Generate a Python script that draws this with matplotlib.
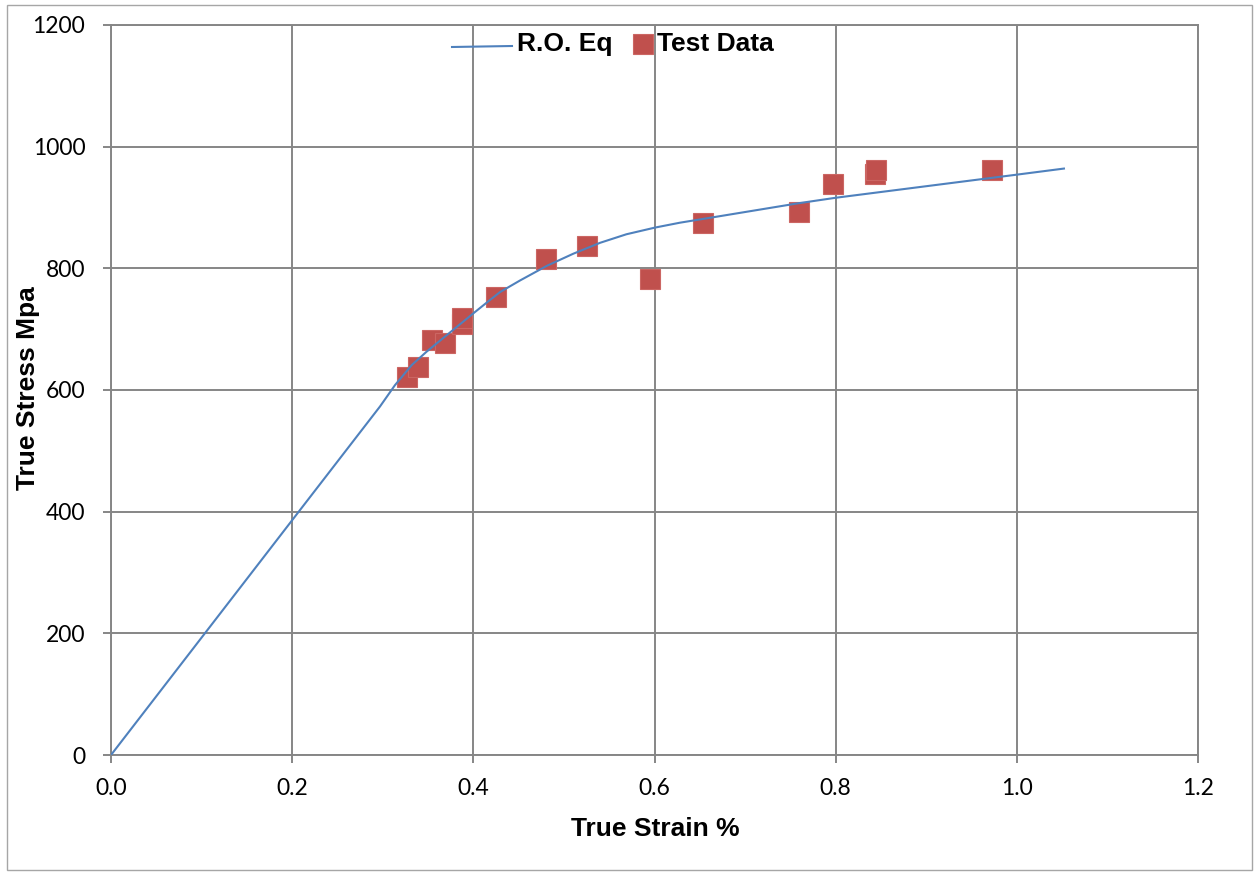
import matplotlib
matplotlib.use("Agg")
import matplotlib.pyplot as plt
from matplotlib.lines import Line2D
from matplotlib.patches import Rectangle

# R.O. equation curve
ro_strain = [0.0, 0.2, 0.297, 0.3135, 0.332, 0.3484, 0.3705, 0.400, 0.4184, 0.4295, 0.4515,
             0.481, 0.5103, 0.540, 0.569, 0.6006, 0.628, 0.665, 0.759, 0.80, 0.90, 1.0, 1.052]
ro_stress = [0, 386, 573, 608, 641, 663, 690, 726, 748, 761, 780,
             804, 824, 842, 856, 867, 875, 884, 907, 916, 935, 954, 964]

# Test data
test_strain = [0.327, 0.339, 0.354, 0.369, 0.387, 0.388, 0.425, 0.480, 0.526, 0.595,
               0.653, 0.759, 0.797, 0.843, 0.845, 0.973]
test_stress = [622, 637, 682, 677, 708, 718, 753, 816, 837, 783,
               874, 892, 939, 955, 962, 962]

xticks = [0.0, 0.2, 0.4, 0.6, 0.8, 1.0, 1.2]
yticks = [0, 200, 400, 600, 800, 1000, 1200]

W, H = 1255, 872
fig = plt.figure(figsize=(W / 100, H / 100), dpi=100)
ax = fig.add_axes([111 / W, 1 - 755 / H, (1198 - 111) / W, (755 - 25) / H])

grid_c = "#868686"
line_c = "#4F81BD"
mark_c = "#C0504D"

ax.plot(test_strain, test_stress, linestyle="none", marker="s", markersize=14.4,
        markerfacecolor=mark_c, markeredgecolor="#CC6663", markeredgewidth=0.8, zorder=3)
ax.plot(ro_strain, ro_stress, color=line_c, linewidth=1.5, zorder=4,
        solid_joinstyle="round")

ax.set_xlim(0, 1.2)
ax.set_ylim(0, 1200)
ax.set_xticks(xticks)
ax.set_xticklabels([f"{v:.1f}" for v in xticks])
ax.set_yticks(yticks)
ax.set_yticklabels([str(v) for v in yticks])
ax.grid(True, color=grid_c, linewidth=1.4, zorder=0)
ax.set_axisbelow(True)
for s in ax.spines.values():
    s.set_color(grid_c)
    s.set_linewidth(1.4)
ax.tick_params(axis="both", direction="out", length=5.5, width=1.4, color=grid_c,
               labelsize=16.5, labelcolor="black")
ax.tick_params(axis="y", pad=13)
ax.tick_params(axis="x", pad=11)
for lab in ax.get_xticklabels() + ax.get_yticklabels():
    lab.set_fontfamily("Lato")

fig.text(655 / W, 1 - 829 / H, "True Strain %", ha="center", va="center",
         fontsize=19, fontweight="bold", family="Liberation Sans")
fig.text(28 / W, 1 - 388 / H, "True Stress Mpa", ha="center", va="center", rotation=90,
         fontsize=19, fontweight="bold", family="Liberation Sans")

# legend drawn manually
fig.add_artist(Line2D([452 / W, 512 / W], [1 - 47 / H, 1 - 46 / H], color=line_c, linewidth=1.5))
fig.text(517 / W, 1 - 44 / H, "R.O. Eq", ha="left", va="center",
         fontsize=19, fontweight="bold", family="Liberation Sans")
fig.add_artist(Line2D([643 / W], [1 - 44 / H], marker="s", markersize=14.4, linestyle="none",
                      markerfacecolor=mark_c, markeredgecolor="#CC6663", markeredgewidth=0.8))
fig.text(657 / W, 1 - 44 / H, "Test Data", ha="left", va="center",
         fontsize=19, fontweight="bold", family="Liberation Sans")

# outer chart border
fig.add_artist(Rectangle((7 / W, 1 - 870 / H), (1252 - 7) / W, (870 - 5) / H,
                         transform=fig.transFigure, fill=False, edgecolor="#A6A6A6", linewidth=1.0))

fig.savefig("out.png", dpi=100)
